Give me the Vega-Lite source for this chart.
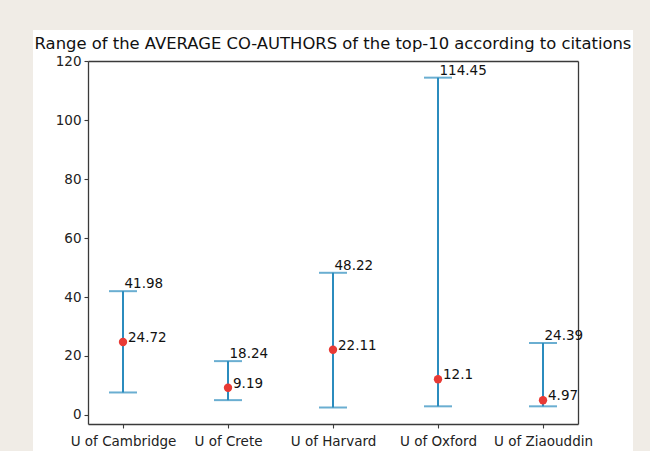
{
  "$schema": "https://vega.github.io/schema/vega-lite/v6.json",
  "width": 600,
  "height": 421,
  "autosize": {"type": "none"},
  "padding": {"left": 33, "top": 30, "right": 17, "bottom": 0},
  "background": "#f0ece6",
  "title": {
    "text": "Range of the AVERAGE CO-AUTHORS of the top-10 according to citations",
    "font": "DejaVu Sans",
    "fontSize": 16.4,
    "fontWeight": "normal",
    "color": "#111111",
    "anchor": "middle",
    "baseline": "alphabetic",
    "offset": -35
  },
  "config": {
    "view": {"stroke": null, "fill": "white"},
    "axis": {
      "grid": false,
      "labelFont": "DejaVu Sans",
      "labelFontSize": 13.5,
      "labelColor": "#222222",
      "domainColor": "#3a3a3a",
      "domainWidth": 1.3,
      "tickColor": "#3a3a3a",
      "tickSize": 4,
      "tickWidth": 1.1,
      "title": null
    }
  },
  "data": {
    "values": [
      {"uni": "U of Cambridge", "min": 7.6, "max": 41.98, "avg": 24.72},
      {"uni": "U of Crete", "min": 5.0, "max": 18.24, "avg": 9.19},
      {"uni": "U of Harvard", "min": 2.5, "max": 48.22, "avg": 22.11},
      {"uni": "U of Oxford", "min": 2.9, "max": 114.45, "avg": 12.1},
      {"uni": "U of Ziaouddin", "min": 2.9, "max": 24.39, "avg": 4.97}
    ]
  },
  "resolve": {"axis": {"x": "independent", "y": "independent"}},
  "layer": [
    {
      "mark": {"type": "rule", "color": "#2b8cbe", "strokeWidth": 2},
      "encoding": {
        "x": {"field": "uni", "type": "nominal", "sort": null,
              "scale": {"type": "point", "range": [55, 545], "padding": 0.3333},
              "axis": {"orient": "bottom", "offset": -27, "labelAngle": 0, "labelPadding": 6}},
        "y": {"field": "min", "type": "quantitative",
              "scale": {"domain": [-3.1, 120.1], "range": [394, 31], "nice": false, "zero": false},
              "axis": {"orient": "left", "offset": -55, "values": [0, 20, 40, 60, 80, 100, 120], "labelPadding": 3}},
        "y2": {"field": "max"}
      }
    },
    {
      "mark": {"type": "tick", "color": "#2b8cbe", "size": 28, "thickness": 2, "orient": "horizontal"},
      "encoding": {
        "x": {"field": "uni", "type": "nominal", "sort": null, "axis": null},
        "y": {"field": "max", "type": "quantitative", "axis": null}
      }
    },
    {
      "mark": {"type": "tick", "color": "#2b8cbe", "size": 28, "thickness": 2, "orient": "horizontal"},
      "encoding": {
        "x": {"field": "uni", "type": "nominal", "sort": null, "axis": null},
        "y": {"field": "min", "type": "quantitative", "axis": null}
      }
    },
    {
      "mark": {"type": "point", "filled": true, "color": "#e83a35", "size": 70, "opacity": 1},
      "encoding": {
        "x": {"field": "uni", "type": "nominal", "sort": null, "axis": null},
        "y": {"field": "avg", "type": "quantitative", "axis": null}
      }
    },
    {
      "mark": {"type": "text", "align": "left", "baseline": "alphabetic", "dx": 1.5, "dy": -3, "font": "DejaVu Sans", "fontSize": 13.5, "color": "#111111"},
      "encoding": {
        "x": {"field": "uni", "type": "nominal", "sort": null, "axis": null},
        "y": {"field": "max", "type": "quantitative", "axis": null},
        "text": {"field": "max", "type": "quantitative"}
      }
    },
    {
      "mark": {"type": "text", "align": "left", "baseline": "alphabetic", "dx": 5, "dy": 0, "font": "DejaVu Sans", "fontSize": 13.5, "color": "#111111"},
      "encoding": {
        "x": {"field": "uni", "type": "nominal", "sort": null,
              "axis": {"orient": "top", "offset": -31, "labels": false, "ticks": false, "domain": true}},
        "y": {"field": "avg", "type": "quantitative",
              "axis": {"orient": "right", "offset": -55, "labels": false, "ticks": false, "domain": true}},
        "text": {"field": "avg", "type": "quantitative"}
      }
    }
  ]
}
